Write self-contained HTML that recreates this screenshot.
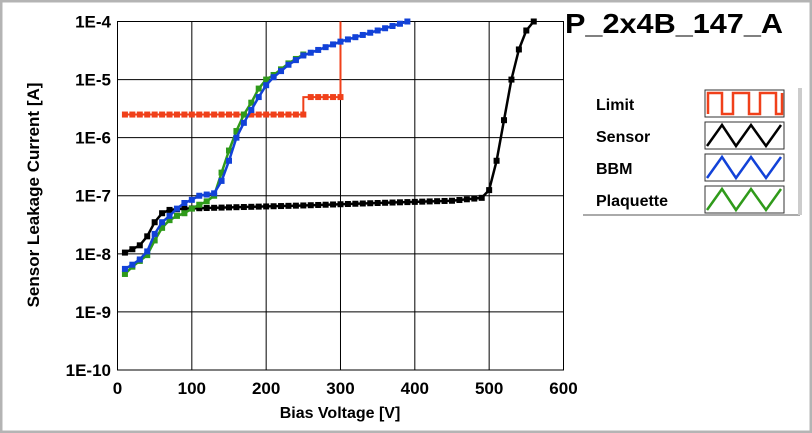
<!DOCTYPE html>
<html><head><meta charset="utf-8"><style>
body{margin:0;background:#fff;}
svg{display:block;font-family:"Liberation Sans",sans-serif;font-weight:bold;}
</style></head><body>
<svg id="s" width="812" height="433" xmlns="http://www.w3.org/2000/svg">
<rect x="0" y="0" width="812" height="433" fill="#fff"/>
<rect x="1" y="1" width="810" height="431" fill="none" stroke="#b4b4b4" stroke-width="3"/>
<rect x="117.5" y="21.5" width="446" height="348.5" fill="#fff" stroke="#000"/>
<g id="grid" stroke="#000" stroke-width="1"></g>
<g font-size="17" text-anchor="end" id="yl"></g>
<g font-size="17" text-anchor="middle" id="xl"></g>
<text x="340" y="418" font-size="16" text-anchor="middle">Bias Voltage [V]</text>
<text transform="translate(39,195) rotate(-90)" font-size="17" text-anchor="middle">Sensor Leakage Current [A]</text>
<text x="565" y="33" font-size="28" textLength="218" lengthAdjust="spacingAndGlyphs">P_2x4B_147_A</text>
<g id="series"></g>
<rect x="583" y="88" width="218" height="127" fill="#fff"/>
<line x1="583" y1="215" x2="800" y2="215" stroke="#aaa" stroke-width="2"/>
<line x1="800" y1="88" x2="800" y2="215" stroke="#ccc" stroke-width="4"/>
<g font-size="16">
<text x="596" y="110">Limit</text><text x="596" y="142">Sensor</text>
<text x="596" y="174">BBM</text><text x="596" y="206">Plaquette</text>
</g>
<g id="leg"></g>
</svg>
<script>
var X=v=>117.5+v*0.7433, Y=i=>21.5+(-4-Math.log10(i))*58.08;
var ns="http://www.w3.org/2000/svg";
function el(p,t,a,txt){var e=document.createElementNS(ns,t);for(var k in a)e.setAttribute(k,a[k]);if(txt)e.textContent=txt;document.getElementById(p).appendChild(e);return e;}
for(var k=1;k<6;k++)el("grid","line",{x1:X(k*100),x2:X(k*100),y1:21.5,y2:370});
for(var d=5;d<=9;d++)el("grid","line",{x1:117.5,x2:563.5,y1:Y(Math.pow(10,-d)),y2:Y(Math.pow(10,-d))});
for(var d=4;d<=10;d++)el("yl","text",{x:111,y:Y(Math.pow(10,-d))+6},"1E-"+d);
for(var k=0;k<=6;k++)el("xl","text",{x:X(k*100),y:394},String(k*100));
function interp(pts){var o=[];for(var i=0;i<pts.length-1;i++){var a=pts[i],b=pts[i+1];for(var v=a[0];v<b[0];v+=10){var t=(v-a[0])/(b[0]-a[0]);o.push([v,Math.pow(10,Math.log10(a[1])+t*(Math.log10(b[1])-Math.log10(a[1])))]);}}o.push(pts[pts.length-1]);return o;}
var sensor=interp([[10,1.05e-8],[20,1.2e-8],[30,1.4e-8],[40,2e-8],[50,3.5e-8],[60,5e-8],[70,5.7e-8],[90,6e-8],[150,6.3e-8],[250,6.8e-8],[350,7.5e-8],[450,8.2e-8],[490,9.2e-8],[500,1.25e-7],[510,4e-7],[520,2e-6],[530,1e-5],[540,3.3e-5],[550,7e-5],[560,1e-4]]);
var bbm=interp([[10,5.5e-9],[20,6.5e-9],[30,8e-9],[40,1.1e-8],[50,2.2e-8],[60,3.5e-8],[70,4.5e-8],[80,6e-8],[90,7.5e-8],[100,8.5e-8],[110,1e-7],[130,1.1e-7],[140,1.8e-7],[150,4e-7],[160,1e-6],[170,1.8e-6],[180,3e-6],[190,5e-6],[200,8e-6],[210,1.1e-5],[220,1.4e-5],[230,1.8e-5],[250,2.6e-5],[300,4.5e-5],[350,7e-5],[390,1e-4]]);
var plaq=interp([[10,4.5e-9],[20,6e-9],[40,9.5e-9],[50,1.7e-8],[60,2.8e-8],[70,3.8e-8],[80,4.5e-8],[90,5e-8],[100,6e-8],[110,7e-8],[120,8e-8],[130,1e-7],[140,2.5e-7],[150,6e-7],[160,1.3e-6],[170,2.5e-6],[180,4e-6],[190,7e-6],[200,1e-5],[210,1.2e-5],[220,1.5e-5],[230,1.9e-5],[250,2.7e-5]]);
var limit=[];for(var v=10;v<=250;v+=10)limit.push([v,2.5e-6]);
function draw(pts,c){var d="";pts.forEach((p,i)=>{d+=(i?"L":"M")+X(p[0]).toFixed(1)+","+Y(p[1]).toFixed(1);});el("series","path",{d:d,fill:"none",stroke:c,"stroke-width":2.5});pts.forEach(p=>el("series","rect",{x:X(p[0])-3,y:Y(p[1])-3,width:6,height:6,fill:c}));}
var lc="#f0401a";
var d="M"+X(10)+","+Y(2.5e-6)+"H"+X(250)+"V"+Y(5e-6)+"H"+X(300)+"V"+Y(1e-4);
el("series","path",{d:d,fill:"none",stroke:lc,"stroke-width":2});
limit.forEach(p=>el("series","rect",{x:X(p[0])-3,y:Y(p[1])-3,width:6,height:6,fill:lc}));
for(var v=260;v<=300;v+=10)el("series","rect",{x:X(v)-3,y:Y(5e-6)-3,width:6,height:6,fill:lc});
draw(sensor,"#000");draw(plaq,"#2f9a1a");draw(bbm,"#1242d8");
var cols=[lc,"#000","#1242d8","#2f9a1a"];
for(var i=0;i<4;i++){var y0=90+i*32;el("leg","rect",{x:705,y:y0,width:79,height:27,fill:"#fff",stroke:"#333"});
 var pd;if(i==0){pd="M708,"+(y0+24)+"V"+(y0+3)+"H722V"+(y0+24)+"H733V"+(y0+3)+"H749V"+(y0+24)+"H760V"+(y0+3)+"H776V"+(y0+24)+"H782V"+(y0+3);}
 else{pd="M707,"+(y0+24)+"L722,"+(y0+3)+"L736,"+(y0+24)+"L751,"+(y0+3)+"L766,"+(y0+24)+"L781,"+(y0+3);}
 el("leg","path",{d:pd,fill:"none",stroke:cols[i],"stroke-width":2.5});}
</script>
</body></html>
